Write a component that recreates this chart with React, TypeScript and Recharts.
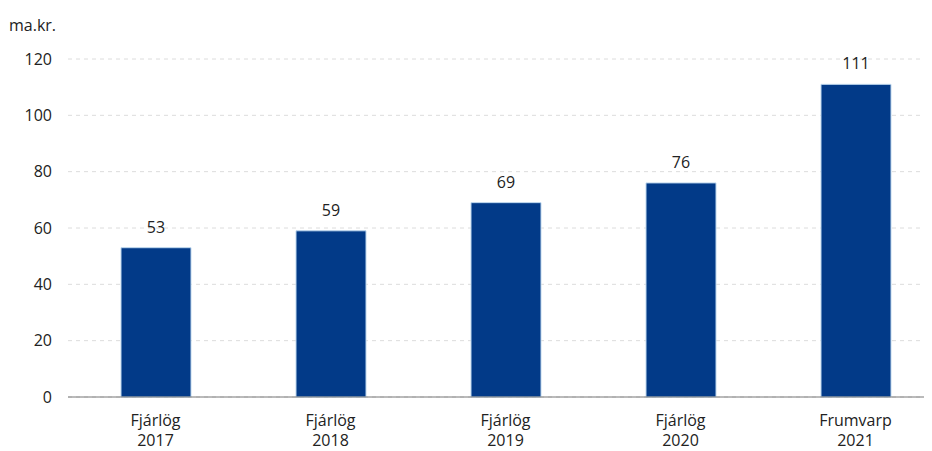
import React from "react";
import { BarChart, Bar, XAxis, YAxis, CartesianGrid, LabelList } from "recharts";

const categories = ["Fjárlög\n2017", "Fjárlög\n2018", "Fjárlög\n2019", "Fjárlög\n2020", "Frumvarp\n2021"];
const values = [53, 59, 69, 76, 111];
const yTicks = [0, 20, 40, 60, 80, 100, 120];

const data = categories.map((c, i) => ({ name: c, value: values[i] }));

const FONT = "'Open Sans', sans-serif";

const XTick = (props: any) => {
  const { x, y, payload } = props;
  const lines = String(payload.value).split("\n");
  return (
    <text x={x} y={y} textAnchor="middle" fill="#222" fontSize={16} fontFamily={FONT}>
      {lines.map((l, i) => (
        <tspan key={i} x={x} dy={i === 0 ? 21 : 20}>
          {l}
        </tspan>
      ))}
    </text>
  );
};

export default function App() {
  return (
    <div style={{ position: "relative", width: 924, height: 443, overflow: "hidden" }}>
      <div
        style={{
          position: "absolute",
          left: 1,
          top: 6,
          fontFamily: FONT,
          fontSize: 16,
          color: "#222",
        }}
      >
        ma.kr.
      </div>
      <BarChart
        width={924}
        height={443}
        data={data}
        margin={{ top: 51, right: -11, left: 0, bottom: 24 }}
        barSize={70}
      >
        <CartesianGrid vertical={false} stroke="#dcdcdc" strokeDasharray="4 4" />
        <XAxis
          dataKey="name"
          tick={<XTick />}
          tickLine={false}
          axisLine={{ stroke: "#777" }}
          interval={0}
          height={30}
        />
        <YAxis
          width={60}
          domain={[0, 120]}
          ticks={yTicks}
          tickLine={false}
          axisLine={false}
          tickMargin={10}
          tick={{ fill: "#222", fontSize: 16, fontFamily: FONT }}
        />
        <Bar dataKey="value" fill="#023a88" stroke="#bdd7ee" strokeWidth={1} isAnimationActive={false}>
          <LabelList dataKey="value" position="top" offset={15} fill="#222" fontSize={16} fontFamily={FONT} />
        </Bar>
      </BarChart>
    </div>
  );
}
